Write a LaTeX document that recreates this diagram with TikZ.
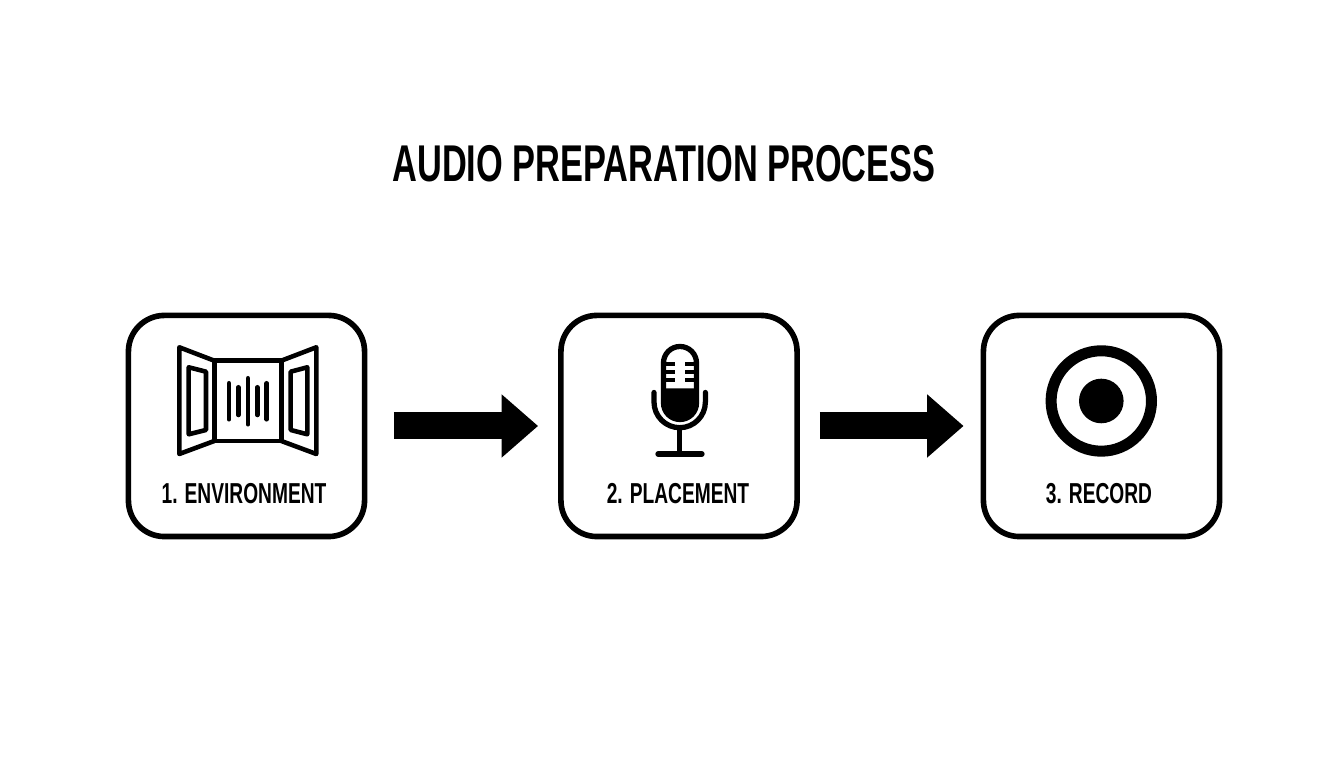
\documentclass[tikz,border=0pt]{standalone}
\usepackage{fontspec}
\usetikzlibrary{arrows.meta}
\newfontfamily\headfont[FakeStretch=0.665]{Liberation Sans}
\tikzset{
  stepbox/.style={draw=black,line width=1.6pt,rounded corners=.36cm,minimum width=2.36cm,minimum height=2.21cm},
  steplabel/.style={font=\headfont\bfseries\fontsize{8.2}{10}\selectfont,text=black},
  flowarrow/.style={draw=black,line width=.27cm,-{Triangle[width=.61cm,length=.365cm]}},
  iconline/.style={line width=1.3pt,line join=round,line cap=round},
  micline/.style={line width=1.5pt,line join=round,line cap=round},
}
\begin{document}
\begin{tikzpicture}[x=.01cm,y=-.01cm]
  \useasboundingbox (0,0) rectangle (1344,768);

  \node[font=\headfont\bfseries\fontsize{14.7}{18}\selectfont,text=black] (title) at (664,164) {AUDIO PREPARATION PROCESS};

  \node[stepbox] (environment) at (246.5,426) {};
  \node[stepbox] (placement) at (679,426) {};
  \node[stepbox] (record) at (1101.5,426) {};

  \node[steplabel] (environmentlabel) at (244,494) {1. ENVIRONMENT};
  \node[steplabel] (placementlabel) at (678,494) {2. PLACEMENT};
  \node[steplabel] (recordlabel) at (1099,494) {3. RECORD};

  \draw[flowarrow,shorten <=.265cm,shorten >=.2cm] (environment) -- (placement);
  \draw[flowarrow,shorten <=.2cm,shorten >=.17cm] (placement) -- (record);

  % room with open panels
  \draw[iconline] (214.3,360.7) rectangle (281.3,441);
  \draw[iconline] (214.3,360.7) -- (179.3,347.3) -- (179.3,454) -- (214.3,441);
  \draw[iconline] (281.3,360.7) -- (316.3,347.3) -- (316.3,454) -- (281.3,441);
  \draw[iconline] (188.7,367.3) -- (206,371.7) -- (206,430) -- (188.7,434.3) -- cycle;
  \draw[iconline] (290.7,371.7) -- (307.3,367.3) -- (307.3,434.3) -- (290.7,430) -- cycle;
  \draw[iconline] (229,383.3) -- (229,419.3);
  \draw[iconline] (238.3,387.3) -- (238.3,415);
  \draw[iconline] (248,378.3) -- (248,424.3);
  \draw[iconline] (257.3,387.3) -- (257.3,415);
  \draw[iconline] (266.7,383.3) -- (266.7,419.3);

  % microphone
  \fill (663.5,388.3) -- (696.5,388.3) -- (696.5,403) arc [radius=16.5,start angle=0,end angle=180] -- cycle;
  \draw[micline] (663.5,363) arc [radius=16.5,start angle=180,end angle=360] -- (696.5,403) arc [radius=16.5,start angle=0,end angle=180] -- cycle;
  \draw[line width=1.1pt] (663.5,364) -- (675,364) (685,364) -- (696.5,364);
  \draw[line width=1.1pt] (663.5,371.7) -- (675,371.7) (685,371.7) -- (696.5,371.7);
  \draw[line width=1.1pt] (663.5,379.7) -- (675,379.7) (685,379.7) -- (696.5,379.7);
  \draw[micline] (654,392.5) -- (654,402) arc [radius=25.7,start angle=180,end angle=0] -- (705.4,392.5);
  \draw[micline] (679.7,427.7) -- (679.7,454);
  \draw[micline] (658,454) -- (702,454);

  % record button
  \draw[line width=3.13pt] (1101.3,401) circle[radius=50.2];
  \fill (1101.3,401) circle[radius=22.3];
\end{tikzpicture}
\end{document}
